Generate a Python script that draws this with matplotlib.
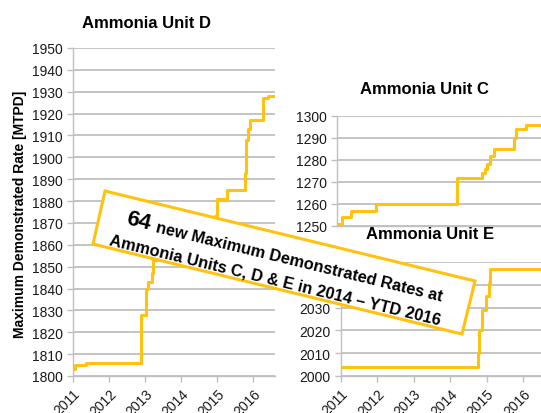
import numpy as np
import matplotlib
matplotlib.use("Agg")
import matplotlib.pyplot as plt
from matplotlib.patches import Polygon

plt.rcParams['font.family'] = ['Liberation Sans', 'DejaVu Sans']

# ---------------------------------------------------------------------------
# Data: step changes of maximum demonstrated rate (year, MTPD)
# ---------------------------------------------------------------------------
D_YEARS = [2011.0, 2011.05, 2011.36, 2012.88, 2013.02, 2013.08, 2013.18, 2013.22,
           2013.6, 2014.1, 2014.6, 2014.95, 2015.0, 2015.28, 2015.78, 2015.80,
           2015.86, 2015.92, 2016.28, 2016.40, 2016.6]
D_RATES = [1803, 1805, 1806, 1828, 1840, 1843, 1847, 1853,
           1858, 1864, 1868, 1873, 1881, 1885, 1893, 1908,
           1913, 1917, 1927, 1928, 1928]

C_YEARS = [2011.0, 2011.13, 2011.38, 2012.07, 2014.30, 2014.96, 2015.05, 2015.12,
           2015.18, 2015.30, 2015.86, 2015.90, 2016.18, 2016.6]
C_RATES = [1251, 1254, 1257, 1260, 1272, 1274, 1276, 1278,
           1282, 1285, 1290, 1294, 1296, 1296]

E_YEARS = [2011.0, 2014.77, 2014.80, 2014.88, 2014.98, 2015.05, 2015.10, 2016.5]
E_RATES = [2004, 2010, 2020, 2029, 2035, 2041, 2047, 2047]

YEAR_TICKS = [2011, 2012, 2013, 2014, 2015, 2016]
GOLD = '#FFC20E'
GRID = '#BFBFBF'

W, H = 541, 414


def fx(x):
    return x / W


def fy(y):
    return 1 - y / H


def style_axes(ax, yticks, xlabels=True):
    ax.set_yticks(yticks)
    ax.set_xticks(YEAR_TICKS)
    ax.grid(axis='y', color=GRID, lw=1.3)
    ax.set_axisbelow(True)
    for s in ('top', 'right'):
        ax.spines[s].set_visible(False)
    for s in ('left', 'bottom'):
        ax.spines[s].set_color(GRID)
        ax.spines[s].set_linewidth(1.0)
    ax.tick_params(axis='both', colors=GRID, length=4, width=1.0,
                   labelcolor='#1a1a1a', labelsize=10)
    if xlabels:
        plt.setp(ax.get_xticklabels(), rotation=45, ha='right',
                 rotation_mode='anchor')
    else:
        ax.tick_params(axis='x', labelbottom=False, length=0)


fig = plt.figure(figsize=(W / 100, H / 100), dpi=100)

# Unit D
axD = fig.add_axes([fx(73), fy(377), fx(275) - fx(73), fy(49) - fy(377)])
axD.step(D_YEARS, D_RATES, where='post', color=GOLD, lw=2.2)
axD.set_xlim(2011, 2016.6)
axD.set_ylim(1800, 1950)
style_axes(axD, np.arange(1800, 1951, 10))

# Unit C
axC = fig.add_axes([fx(337), fy(227), 1 - fx(337), fy(117) - fy(227)])
axC.step(C_YEARS, C_RATES, where='post', color=GOLD, lw=2.2)
axC.set_xlim(2011, 2016.59)
axC.set_ylim(1250, 1300)
style_axes(axC, np.arange(1250, 1301, 10), xlabels=False)

# Unit E
axE = fig.add_axes([fx(341), fy(377), 1 - fx(341), fy(263) - fy(377)])
axE.step(E_YEARS, E_RATES, where='post', color=GOLD, lw=2.2)
axE.set_xlim(2011, 2016.49)
axE.set_ylim(2000, 2050)
style_axes(axE, np.arange(2000, 2051, 10))

# titles and shared y label
fig.text(fx(147), fy(23), 'Ammonia Unit D', ha='center', va='center',
         fontsize=12, fontweight='bold')
fig.text(fx(424), fy(90), 'Ammonia Unit C', ha='center', va='center',
         fontsize=12, fontweight='bold')
fig.text(fx(430), fy(235), 'Ammonia Unit E', ha='center', va='center',
         fontsize=12, fontweight='bold')
fig.text(fx(20), fy(214), 'Maximum Demonstrated Rate [MTPD]', rotation=90,
         ha='center', va='center', fontsize=10, fontweight='bold')

# rotated call-out box
corners = [(105, 192), (475, 282), (462, 335), (93, 245)]
box = Polygon([(fx(x), fy(y)) for x, y in corners], closed=True,
              transform=fig.transFigure, facecolor='white', edgecolor=GOLD,
              lw=2.2, zorder=5)
fig.patches.append(box)

ang = -np.degrees(np.arctan2(90, 370))
txt = dict(rotation=ang, rotation_mode='anchor', ha='left', va='baseline',
           fontweight='bold', color='black', zorder=6)
fig.text(fx(125), fy(224), '64', fontsize=16, **txt)
fig.text(fx(155), fy(232), 'new Maximum Demonstrated Rates at',
         fontsize=11.8, **txt)
fig.text(fx(109), fy(245), 'Ammonia Units C, D & E in 2014 \u2013 YTD 2016',
         fontsize=11.8, **txt)

fig.savefig('out.png', dpi=100)
